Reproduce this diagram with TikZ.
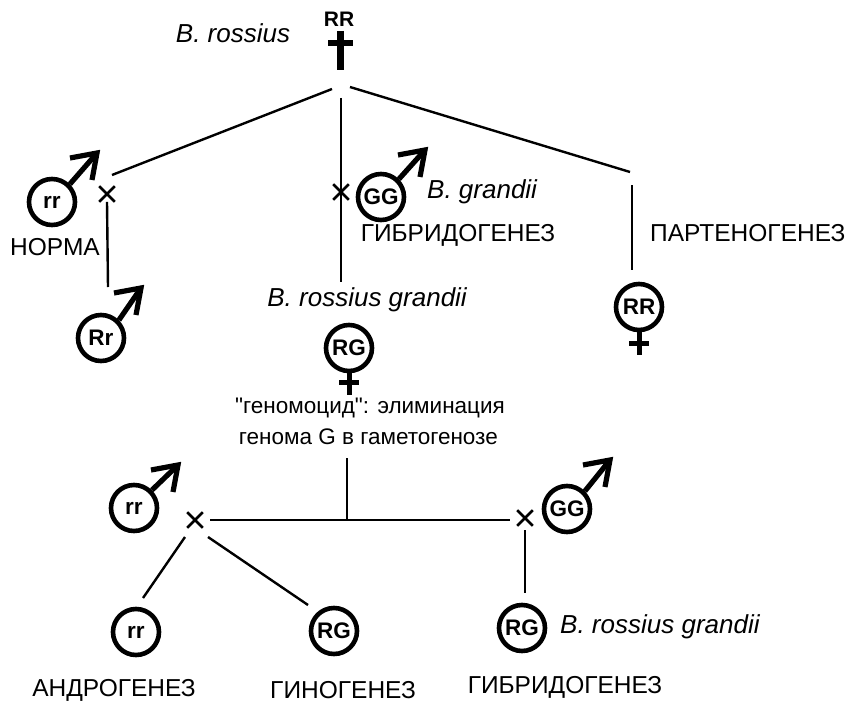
\documentclass[tikz,border=0pt]{standalone}
\usepackage{fontspec}
\setmainfont{Liberation Sans}
\newfontfamily\notefont{Liberation Sans}
\usetikzlibrary{shapes.misc}
\tikzset{
  conn/.style={line width=2.4pt},
  gcirc/.style={circle,draw,line width=4.6pt,minimum size=46pt,inner sep=0pt,font=\fontsize{22.5}{24}\selectfont\bfseries},
  xmark/.style={cross out,draw,line width=2.6pt,minimum size=13pt,inner sep=0pt},
  malesh/.style={line width=5.2pt},
  malehd/.style={line width=5.2pt,line join=miter},
  fem/.style={line width=5pt},
  capt/.style={font=\fontsize{24.5}{28}\selectfont},
  spec/.style={font=\fontsize{26}{30}\selectfont\itshape},
  note/.style={font=\notefont\fontsize{22.5}{26}\selectfont},
}
\begin{document}
\begin{tikzpicture}[x=1pt,y=-1pt]
\useasboundingbox (0,0) rectangle (850,706);
% top parent
\node[font=\fontsize{21}{24}\selectfont\bfseries,inner sep=0pt] (RRtop) at (339,19) {RR};
\coordinate (ctop) at (340,31);
\coordinate (cbot) at (340,70);
\draw[line width=7pt] (ctop) -- (cbot);
\coordinate (cbl) at (328,43);
\coordinate (cbr) at (353,43);
\draw[line width=6pt] (cbl) -- (cbr);
\node[spec,inner sep=0pt] (brossius) at (233,33) {B. rossius};
\coordinate (jL) at (332,89);
\coordinate (jR) at (350,87);
\coordinate (jM) at (341,98);

% left branch
\node[xmark] (xA) at (107,194) {};
\coordinate (eA) at (112,175);
\draw[conn] (jL) -- (eA);
\node[gcirc] (rrA) at (52,202) {rr};
\coordinate (tA) at (97,153);
\draw[malesh] (rrA.45) -- (tA);
\draw[malehd] (tA) ++(-27,5) -- (tA) -- ++(-5,27);
\coordinate (nA) at (108,287);
\draw[conn] (xA.south) -- (nA);
\node[capt,inner sep=0pt] (norma) at (55,247) {НОРМА};
\node[gcirc] (RrA) at (101,338) {Rr};
\coordinate (tRr) at (141,288);
\draw[malesh] (RrA.45) -- (tRr);
\draw[malehd] (tRr) ++(-27,5) -- (tRr) -- ++(-5,27);

% middle branch
\coordinate (mB) at (341,282);
\draw[conn] (jM) -- (mB);
\node[xmark] (xB) at (341,192) {};
\node[gcirc] (GGB) at (381,197) {GG};
\coordinate (tGB) at (425,150);
\draw[malesh] (GGB.45) -- (tGB);
\draw[malehd] (tGB) ++(-27,5) -- (tGB) -- ++(-5,27);
\node[spec,anchor=west,inner sep=0pt] (bgrandii) at (427,192) {B. grandii};
\node[capt,inner sep=0pt] (gibr1) at (458,235) {ГИБРИДОГЕНЕЗ};
\node[spec,anchor=east,inner sep=0pt] (brg1) at (467,300) {B. rossius grandii};
\node[gcirc] (RGB) at (349,348) {RG};
\draw[fem] (RGB.south) -- ++(0,22);
\draw[fem] (RGB.south) ++(-10,9) -- ++(20,0);

% right branch
\coordinate (eC) at (630,172);
\draw[conn] (jR) -- (eC);
\coordinate (vC1) at (632,185);
\coordinate (vC2) at (632,270);
\draw[conn] (vC1) -- (vC2);
\node[capt,anchor=west,inner sep=0pt] (parten) at (650,233) {ПАРТЕНОГЕНЕЗ};
\node[gcirc] (RRC) at (639,307) {RR};
\draw[fem] (RRC.south) -- ++(0,23);
\draw[fem] (RRC.south) ++(-10,11) -- ++(20,0);

% note
\node[note,anchor=east,inner sep=0pt] (note1) at (505,408) {"геномоцид": элиминация};
\node[note,anchor=east,inner sep=0pt] (note2) at (498,437) {генома G в гаметогенозе};

% lower cross
\coordinate (vD1) at (347,458);
\coordinate (vD2) at (347,520);
\draw[conn] (vD1) -- (vD2);
\node[xmark] (xL) at (195,520) {};
\node[xmark] (xR) at (525,518) {};
\coordinate (hL) at (210,520);
\coordinate (hR) at (510,520);
\draw[conn] (hL) -- (hR);
\node[gcirc] (rrL) at (134,508) {rr};
\coordinate (trL) at (178,465);
\draw[malesh] (rrL.45) -- (trL);
\draw[malehd] (trL) ++(-27,5) -- (trL) -- ++(-5,27);
\node[gcirc] (GGR) at (567,509) {GG};
\coordinate (tGR) at (610,460);
\draw[malesh] (GGR.45) -- (tGR);
\draw[malehd] (tGR) ++(-27,5) -- (tGR) -- ++(-5,27);

% offspring
\node[gcirc] (rrO) at (136,632) {rr};
\node[gcirc] (RGO) at (334,631) {RG};
\node[gcirc] (RGR) at (522,628) {RG};
\coordinate (a1) at (185,537);
\coordinate (a2) at (143,598);
\draw[conn] (a1) -- (a2);
\coordinate (b1) at (208,537);
\coordinate (b2) at (308,605);
\draw[conn] (b1) -- (b2);
\coordinate (c1) at (525,530);
\coordinate (c2) at (525,593);
\draw[conn] (c1) -- (c2);
\node[spec,anchor=west,inner sep=0pt] (brg2) at (560,627) {B. rossius grandii};

\node[capt,inner sep=0pt] (andro) at (114,690) {АНДРОГЕНЕЗ};
\node[capt,inner sep=0pt] (gino) at (343,690) {ГИНОГЕНЕЗ};
\node[capt,inner sep=0pt] (gibr2) at (565,687) {ГИБРИДОГЕНЕЗ};
\end{tikzpicture}
\end{document}
